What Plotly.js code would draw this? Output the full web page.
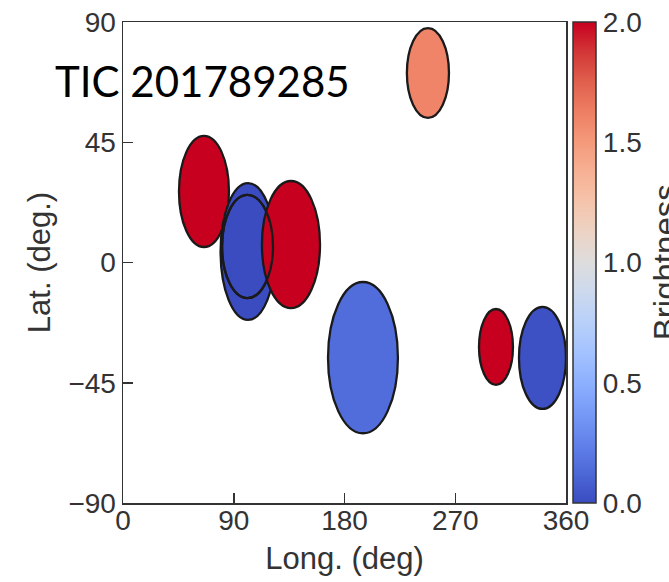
<!DOCTYPE html>
<html>
<head>
<meta charset="utf-8">
<script src="https://cdn.plot.ly/plotly-3.0.1.min.js"></script>
<style>html,body{margin:0;padding:0;background:#fff;}#chart{width:669px;height:582px;}</style>
</head>
<body>
<div id="chart"></div>
<script>
// Spot data (longitude / latitude in degrees)
const spotLon      = [65.8, 101.6, 101.2, 136.5, 247.8, 195.0, 303.1, 340.9];
const spotLat      = [26.6,   4.1,   6.0,   6.7,  70.9, -35.6, -31.6, -35.7];
const spotHalfLon  = [20.3,  22.3,  20.7,  23.6,  17.1,  28.4,  13.8,  19.1];
const spotHalfLat  = [20.8,  25.6,  19.3,  23.8,  16.8,  28.3,  14.2,  19.1];
const brightness   = [2.0,   0.0,   0.0,   2.0,   1.6,   0.15,  2.0,   0.02];
const xTicks = [0, 90, 180, 270, 360];
const yTicks = [-90, -45, 0, 45, 90];
const cbTicks = [0, 0.5, 1.0, 1.5, 2.0];
const titleText = 'TIC 201789285';

const coolwarm = [
  [0.0,[58,76,192]],[0.0625,[77,104,215]],[0.125,[98,130,234]],[0.1875,[119,154,247]],
  [0.25,[141,176,254]],[0.3125,[163,194,255]],[0.375,[184,208,249]],[0.4375,[204,217,238]],
  [0.5,[221,221,221]],[0.5625,[236,211,197]],[0.625,[245,196,172]],[0.6875,[247,177,148]],
  [0.75,[244,154,123]],[0.8125,[238,127,99]],[0.875,[224,96,77]],[0.9375,[210,55,55]],
  [1.0,[200,0,32]]
];
const cmin = 0, cmax = 2;
function colorAt(v){
  let t = Math.max(0, Math.min(1, (v - cmin)/(cmax - cmin)));
  for (let i=1;i<coolwarm.length;i++){
    if (t <= coolwarm[i][0]){
      const [t0,c0] = coolwarm[i-1], [t1,c1] = coolwarm[i];
      const f = (t - t0)/(t1 - t0);
      const c = c0.map((a,k)=>Math.round(a + (c1[k]-a)*f));
      return 'rgb('+c.join(',')+')';
    }
  }
  return 'rgb('+coolwarm[coolwarm.length-1][1].join(',')+')';
}
const plotlyScale = coolwarm.map(s=>[s[0],'rgb('+s[1].join(',')+')']);

const shapes = [];
function ellipse(i, filled){
  return {
    type:'circle', xref:'x', yref:'y', layer:'above',
    x0: spotLon[i]-spotHalfLon[i], x1: spotLon[i]+spotHalfLon[i],
    y0: spotLat[i]-spotHalfLat[i], y1: spotLat[i]+spotHalfLat[i],
    fillcolor: filled ? colorAt(brightness[i]) : 'rgba(0,0,0,0)',
    line:{color:'#1a1a1a', width:2.3}
  };
}
for (let i=0;i<spotLon.length;i++) shapes.push(ellipse(i,true));
// inner spot outline visible on top of the overlapping spot
shapes.push(ellipse(2,false));

const tickFont = {family:'Liberation Sans, Arial, sans-serif', size:28, color:'#333333'};
const titleFont = {family:'Liberation Sans, Arial, sans-serif', size:31, color:'#333333'};

const trace = {
  type:'scatter', mode:'markers', x: spotLon, y: spotLat,
  hoverinfo:'skip', showlegend:false,
  marker:{size:1, opacity:0, color: brightness, colorscale: plotlyScale, cmin:cmin, cmax:cmax,
    showscale:true,
    colorbar:{x:1.0158, xanchor:'left', xpad:0, ypad:0, y:0.5, yanchor:'middle', len:1, lenmode:'fraction',
      thickness:23, thicknessmode:'pixels', outlinewidth:1.5, outlinecolor:'#333333',
      tickvals: cbTicks, ticktext: cbTicks.map(v=>v.toFixed(1)), ticks:'', ticklabelpad:2,
      tickfont: tickFont}
  }
};

const layout = {
  width:669, height:582,
  margin:{l:123, r:103, t:22, b:79},
  paper_bgcolor:'#ffffff', plot_bgcolor:'#ffffff',
  showlegend:false,
  xaxis:{range:[0,360], tickvals:xTicks, ticktext:xTicks.map(String), ticks:'inside', ticklen:10, tickwidth:1.5,
    tickcolor:'#333333', showline:true, linecolor:'#333333', linewidth:1.5, mirror:true,
    showgrid:false, zeroline:false, tickfont:tickFont, ticklabelstandoff:-8,
    title:{text:'Long. (deg)', font:titleFont, standoff:12}},
  yaxis:{range:[-90,90], tickvals:yTicks, ticktext:yTicks.map(v=>v<0?'\u2212'+Math.abs(v):String(v)), ticks:'inside', ticklen:10, tickwidth:1.5,
    tickcolor:'#333333', showline:true, linecolor:'#333333', linewidth:1.5, mirror:true,
    showgrid:false, zeroline:false, tickfont:tickFont,
    title:{text:'Lat. (deg.)', font:titleFont, standoff:8}},
  shapes: shapes,
  annotations:[
    {text:titleText, xref:'paper', yref:'paper', x:-0.158, y:0.878, xanchor:'left', yanchor:'middle',
     showarrow:false, font:{family:'Lato, Open Sans, sans-serif', size:42, color:'#000000'}},
    {text:'Brightness', xref:'paper', yref:'paper', x:1.225, y:0.5, xanchor:'center', yanchor:'middle',
     textangle:-90, showarrow:false, font:{family:'Liberation Sans, Arial, sans-serif', size:33, color:'#333333'}}
  ]
};

Plotly.newPlot('chart', [trace], layout, {displayModeBar:false, staticPlot:true});
</script>
</body>
</html>
